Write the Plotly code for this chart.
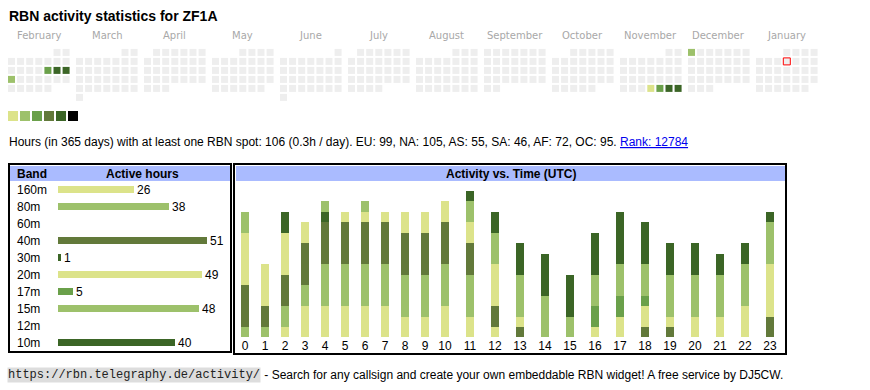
import datetime as dt
import plotly.graph_objects as go

# ---------------- data ----------------
title = "RBN activity statistics for ZF1A"
callsign = "ZF1A"

month_names = ["February", "March", "April", "May", "June", "July", "August",
               "September", "October", "November", "December", "January"]
month_starts = [(2025, 2), (2025, 3), (2025, 4), (2025, 5), (2025, 6), (2025, 7),
                (2025, 8), (2025, 9), (2025, 10), (2025, 11), (2025, 12), (2026, 1)]

active_days = ["2025-02-14", "2025-02-15", "2025-02-16", "2025-02-17",
               "2025-11-27", "2025-11-28", "2025-11-29", "2025-11-30", "2025-12-01"]
active_levels = [3, 5, 5, 2, 1, 3, 5, 5, 2]
today = "2026-01-08"

level_colors = ["#dce38a", "#9dc16b", "#6aa04a", "#62793a", "#3b6526", "#000000"]
empty_color = "#eeeeee"

total_hours = 106
window_days = 365
regions = ["EU", "NA", "AS", "SA", "AF", "OC"]
region_hours = [99, 105, 55, 46, 72, 95]
rank = 12784

bands = ["160m", "80m", "60m", "40m", "30m", "20m", "17m", "15m", "12m", "10m"]
band_hours = [26, 38, 0, 51, 1, 49, 5, 48, 0, 40]
band_colors = ["#dce38a", "#9dc16b", "#6aa04a", "#62793a", "#3b6526",
               "#dce38a", "#6aa04a", "#9dc16b", "#62793a", "#3b6526"]

hour_labels = [str(h) for h in range(24)]
hourly = {
    "160m": [0, 0, 1, 3, 3, 3, 3, 3, 2, 2, 3, 2, 1, 0, 0, 0, 0, 0, 0, 0, 0, 0, 0, 0],
    "80m":  [1, 1, 2, 2, 4, 4, 4, 4, 4, 4, 4, 4, 0, 0, 0, 0, 0, 0, 0, 0, 0, 0, 0, 0],
    "60m":  [0] * 24,
    "40m":  [4, 2, 3, 4, 4, 4, 4, 4, 4, 4, 4, 3, 2, 1, 0, 0, 0, 0, 1, 1, 0, 0, 0, 2],
    "30m":  [0, 0, 0, 0, 1, 0, 0, 0, 0, 0, 0, 0, 0, 0, 0, 0, 0, 0, 0, 0, 0, 0, 0, 0],
    "20m":  [5, 4, 4, 2, 0, 1, 1, 1, 2, 2, 2, 2, 4, 1, 0, 0, 1, 2, 2, 1, 2, 2, 3, 5],
    "17m":  [0, 0, 0, 0, 0, 0, 0, 0, 0, 0, 0, 0, 0, 0, 0, 0, 2, 2, 1, 0, 0, 0, 0, 0],
    "15m":  [2, 0, 0, 0, 1, 0, 1, 0, 0, 0, 0, 2, 3, 4, 4, 2, 3, 3, 3, 4, 4, 4, 4, 4],
    "12m":  [0] * 24,
    "10m":  [0, 0, 2, 0, 0, 0, 0, 0, 0, 0, 0, 1, 2, 3, 4, 4, 4, 5, 4, 3, 3, 2, 2, 1],
}

# ---------------- layout constants ----------------
W, H = 870, 390
SANS = "Liberation Sans, Arial, sans-serif"
CAL_FONT = "DejaVu Sans, Verdana, sans-serif"
MONO = "Liberation Mono, Courier New, monospace"
HEADER_BG = "#aabbff"


def px(x):
    return x / W


def py(y):
    return 1 - y / H


# calendar grid (page-pixel axis)
CAL_X0, CAL_Y0 = 11.5, 52.4
CELL_DX, CELL_DY, BLOCK_DX = 9.1, 9.0, 68.0

lvl_by_day = dict(zip(active_days, active_levels))
cx, cy, cc, ctext = [], [], [], []
tx, ty = [], []
for m, (yy, mm) in enumerate(month_starts):
    first = dt.date(yy, mm, 1)
    nxt = dt.date(yy + (mm == 12), mm % 12 + 1, 1)
    fw = first.weekday()
    for d in range((nxt - first).days):
        day = first + dt.timedelta(days=d)
        idx = d + fw
        x = CAL_X0 + BLOCK_DX * m + CELL_DX * (idx % 7)
        y = CAL_Y0 + CELL_DY * (idx // 7)
        lv = lvl_by_day.get(day.isoformat(), 0)
        cx.append(x)
        cy.append(y)
        cc.append(level_colors[lv - 1] if lv else empty_color)
        ctext.append(day.isoformat())
        if day.isoformat() == today:
            tx.append(x)
            ty.append(y)

fig = go.Figure()

fig.add_trace(go.Scatter(
    x=cx, y=cy, mode="markers", text=ctext, hoverinfo="text",
    marker=dict(symbol="square", size=7, color=cc, line=dict(width=0)),
    xaxis="x", yaxis="y"))
fig.add_trace(go.Scatter(
    x=tx, y=ty, mode="markers", hoverinfo="skip",
    marker=dict(symbol="square", size=7, color=empty_color,
                line=dict(width=1, color="#ff0000")),
    xaxis="x", yaxis="y"))

# colour scale legend
fig.add_trace(go.Scatter(
    x=[13 + 12 * i for i in range(len(level_colors))],
    y=[116] * len(level_colors), mode="markers", hoverinfo="skip",
    marker=dict(symbol="square", size=10, color=level_colors, line=dict(width=0)),
    xaxis="x", yaxis="y"))

# band table bars
fig.add_trace(go.Bar(
    x=band_hours, y=bands, orientation="h", width=0.41,
    marker=dict(color=band_colors, line=dict(width=0)),
    text=[str(v) if v else "" for v in band_hours], textposition="outside",
    textfont=dict(family=SANS, size=12, color="#000"),
    constraintext="none", cliponaxis=False,
    xaxis="x2", yaxis="y2"))

# activity vs time stacked bars
col_w = [20 if len(l) == 1 else 25 for l in hour_labels]
lefts = [sum(col_w[:i]) for i in range(len(col_w))]
hour_pos = [l + 10 for l in lefts]
for b, col in zip(bands, band_colors):
    fig.add_trace(go.Bar(
        x=hour_pos, y=hourly[b], width=8, name=b,
        marker=dict(color=col, line=dict(width=0)),
        xaxis="x3", yaxis="y3"))

ax_off = dict(visible=False, showgrid=False, zeroline=False, fixedrange=True)
BAND_X0, BAND_PX = 58, 2.93
ACT_Y0, ACT_PX = 337, 10.5
ROW_Y0, ROW_DY = 189.6, 17

fig.update_layout(
    width=W, height=H, margin=dict(l=0, r=0, t=0, b=0),
    paper_bgcolor="white", plot_bgcolor="rgba(0,0,0,0)",
    showlegend=False, barmode="stack", bargap=0,
    xaxis=dict(domain=[0, 1], range=[0, W], **ax_off),
    yaxis=dict(domain=[0, 1], range=[H, 0], **ax_off),
    xaxis2=dict(domain=[px(BAND_X0), px(BAND_X0 + BAND_PX * 60)], range=[0, 60],
                anchor="y2", **ax_off),
    yaxis2=dict(domain=[py(ROW_Y0 + ROW_DY * 9.5), py(ROW_Y0 - ROW_DY * 0.5)],
                type="category", categoryorder="array", categoryarray=bands,
                range=[9.5, -0.5], anchor="x2", **ax_off),
    xaxis3=dict(domain=[px(236), px(785)], range=[1, 550], anchor="y3",
                tickmode="array", tickvals=hour_pos, ticktext=hour_labels,
                ticks="", showline=False, showgrid=False, zeroline=False,
                fixedrange=True,
                tickfont=dict(family=SANS, size=12, color="#000")),
    yaxis3=dict(domain=[py(ACT_Y0), py(ACT_Y0 - ACT_PX * 15)], range=[0, 15],
                anchor="x3", **ax_off),
)

shapes = [
    # headers
    dict(type="rect", xref="paper", yref="paper", x0=px(10), x1=px(230),
         y0=py(181), y1=py(166), fillcolor=HEADER_BG, line=dict(width=0), layer="below"),
    dict(type="rect", xref="paper", yref="paper", x0=px(236), x1=px(785),
         y0=py(181), y1=py(166), fillcolor=HEADER_BG, line=dict(width=0), layer="below"),
    # borders
    dict(type="rect", xref="paper", yref="paper", x0=px(9), x1=px(231),
         y0=py(352), y1=py(164), line=dict(width=2, color="#000")),
    dict(type="rect", xref="paper", yref="paper", x0=px(234), x1=px(786),
         y0=py(354), y1=py(164), line=dict(width=2, color="#000")),
]
fig.update_layout(shapes=shapes)

ann = []


def add_text(text, x, y, size=12, family=SANS, color="#000", xanchor="left", **kw):
    ann.append(dict(text=text, x=px(x), y=py(y), xref="paper", yref="paper",
                    xanchor=xanchor, yanchor="middle", showarrow=False,
                    font=dict(family=family, size=size, color=color), **kw))


add_text("<b>" + title + "</b>", 7, 16.5, size=14)
for m, name in enumerate(month_names):
    add_text(name, CAL_X0 - 3.5 + BLOCK_DX * m + (CELL_DX * 6 + 7) / 2, 35.5,
             size=10, family=CAL_FONT, color="#a8a8a8", xanchor="center")

reg_txt = ", ".join(f"{r}: {v}" for r, v in zip(regions, region_hours))
info = (f"Hours (in {window_days} days) with at least one RBN spot: {total_hours} "
        f"({total_hours / window_days:.1f}h / day). {reg_txt}. "
        f"<a href='https://rbn.telegraphy.de/activity/{callsign}'>"
        f"<span style='color:#0000ee;text-decoration:underline'>Rank: {rank}</span></a>")
add_text(info, 7, 142)

add_text("<b>Band</b>", 15, 173.5)
add_text("<b>Active hours</b>", 142, 173.5, xanchor="center")
add_text("<b>Activity vs. Time (UTC)</b>", 510.5, 173.5, xanchor="center")
for k, b in enumerate(bands):
    ann.append(dict(text=b, x=px(15), y=b, xref="paper", yref="y2",
                    xanchor="left", yanchor="middle", showarrow=False,
                    font=dict(family=SANS, size=12, color="#000")))

add_text("https://rbn.telegraphy.de/activity/", 7, 374.5, family=MONO,
         color="#222", bgcolor="#dddddd", borderpad=0)
add_text(" - Search for any callsign and create your own embeddable RBN widget! "
         "A free service by DJ5CW.", 259, 374.5)

fig.update_layout(annotations=ann)
fig.write_html("out.html", config={"displayModeBar": False},
               post_script="document.body.style.margin='0';document.body.style.overflow='hidden';")
